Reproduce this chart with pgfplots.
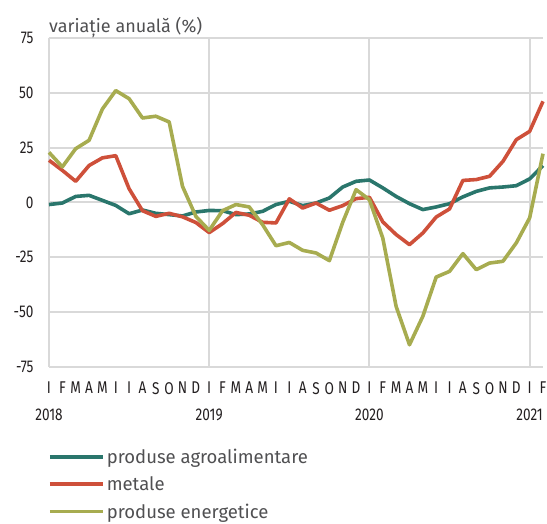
\documentclass[border=0pt]{standalone}
\usepackage{fontspec}
\setmainfont{Fira Sans}
\newfontfamily\condfont[FakeStretch=0.8]{Fira Sans}
\usepackage{pgfplots}
\pgfplotsset{compat=1.18}
\definecolor{cteal}{RGB}{42,118,108}
\definecolor{cred}{RGB}{206,80,58}
\definecolor{colive}{RGB}{167,172,80}
\definecolor{cgrid}{RGB}{217,217,217}
\definecolor{ctext}{RGB}{35,31,32}
\definecolor{ctitle}{RGB}{80,80,82}
\begin{document}
\begin{tikzpicture}
\begin{axis}[
  at={(0,0)}, anchor=south west,
  scale only axis, width=494pt, height=328.7pt,
  xmin=0, xmax=37, ymin=-75, ymax=75,
  clip=false,
  axis line style={draw=none},
  tick style={draw=none},
  ytick={-75,-50,-25,0,25,50,75},
  yticklabels={-75,-50,-25,0,25,50,75},
  ymajorgrids,
  major grid style={cgrid, line width=2pt},
  xtick={0,...,37},
  xticklabels={{I\\2018},F,M,A,M,I,I,A,S,O,N,D,{I\\2019},F,M,A,M,I,I,A,S,O,N,D,{I\\2020},F,M,A,M,I,I,A,S,O,N,D,{I\\2021},F},
  extra x ticks={0,12,24,36},
  extra x tick labels={},
  extra x tick style={grid=major},
  yticklabel style={font=\fontsize{17}{18}\condfont, text=ctext, anchor=east, xshift=-12pt},
  xticklabel style={font=\fontsize{17}{27}\condfont, text=ctext, align=center, anchor=north, yshift=-12pt},
  legend style={at={(0,0)}, anchor=north west, yshift=-78pt, xshift=-4pt, draw=none, fill=none,
    font=\fontsize{18.5}{20}\selectfont, text=ctitle, row sep=7.7pt},
  legend cell align=left,
  legend image code/.code={\draw[#1] (0pt,0pt) -- (53pt,0pt);},
  every axis plot/.append style={line width=3.6pt, line join=round},
]
\addplot[cteal] coordinates {
(0,-1.0)(1,-0.3)(2,2.7)(3,3.2)(4,0.9)(5,-1.4)(6,-5.2)(7,-3.5)(8,-5.0)(9,-5.6)(10,-6.2)(11,-4.4)
(12,-3.7)(13,-3.8)(14,-5.6)(15,-5.3)(16,-4.1)(17,-1.0)(18,0.5)(19,-1.5)(20,-0.3)(21,2.0)(22,7.0)(23,9.6)
(24,10.2)(25,6.6)(26,2.7)(27,-0.6)(28,-3.3)(29,-2.1)(30,-0.6)(31,2.5)(32,5.0)(33,6.6)(34,7.0)(35,7.6)
(36,10.7)(37,16.8)};
\addlegendentry{produse agroalimentare}
\addplot[cred] coordinates {
(0,19.2)(1,14.6)(2,9.6)(3,16.8)(4,20.3)(5,21.3)(6,6.2)(7,-3.8)(8,-6.4)(9,-5.0)(10,-6.6)(11,-9.2)
(12,-13.8)(13,-9.7)(14,-4.6)(15,-5.9)(16,-9.1)(17,-9.4)(18,1.6)(19,-2.6)(20,-0.3)(21,-3.6)(22,-1.5)(23,1.7)
(24,2.3)(25,-8.9)(26,-14.7)(27,-19.3)(28,-14.0)(29,-6.7)(30,-3.0)(31,10.0)(32,10.4)(33,11.9)(34,18.7)(35,28.6)
(36,32.4)(37,46.1)};
\addlegendentry{metale}
\addplot[colive] coordinates {
(0,22.8)(1,16.2)(2,24.5)(3,28.3)(4,42.6)(5,51.0)(6,47.3)(7,38.5)(8,39.3)(9,36.7)(10,7.3)(11,-6.4)
(12,-12.8)(13,-3.8)(14,-1.0)(15,-2.1)(16,-10.2)(17,-19.8)(18,-18.3)(19,-21.9)(20,-23.1)(21,-26.6)(22,-9.1)(23,5.8)
(24,1.2)(25,-16.3)(26,-47.5)(27,-65.0)(28,-52.0)(29,-34.1)(30,-31.5)(31,-23.4)(32,-30.7)(33,-27.7)(34,-26.9)(35,-18.5)
(36,-7.1)(37,22.2)};
\addlegendentry{produse energetice}
\node[anchor=base west, inner sep=0pt, font=\fontsize{18}{20}\selectfont, text=ctitle] at (rel axis cs:0,1) [yshift=5.7pt] {variație anuală (\%)};
\end{axis}
\pgfresetboundingbox
\path (-49pt,-156.3pt) rectangle (498pt,366.7pt);
\end{tikzpicture}
\end{document}
